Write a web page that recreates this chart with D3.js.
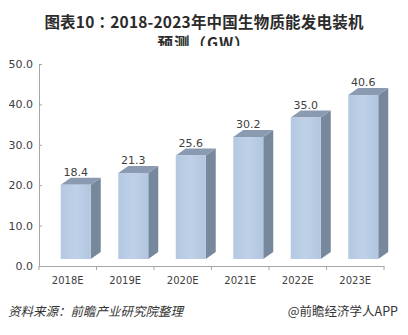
<!DOCTYPE html>
<html><head><meta charset="utf-8">
<script src="https://cdn.jsdelivr.net/npm/d3@7"></script>
<style>body{margin:0;background:#fff}svg{display:block}</style>
</head><body>
<script>
const categories = ["2018E","2019E","2020E","2021E","2022E","2023E"];
const values = [18.4,21.3,25.6,30.2,35.0,40.6];
const yTicks = [0,10,20,30,40,50];
const titleLines = ["图表10：2018-2023年中国生物质能发电装机","预测（GW）"];
const sourceText = "资料来源：前瞻产业研究院整理";
const brandText = "@前瞻经济学人APP";

(function(){
const W=408,H=335;
const svg=d3.select("body").append("svg").attr("width",W).attr("height",H);
const defs=svg.append("defs");
defs.append("clipPath").attr("id","tclip").append("rect").attr("x",0).attr("y",0).attr("width",W).attr("height",46);
const g=defs.append("linearGradient").attr("id","front").attr("x1",0).attr("x2",1).attr("y1",0).attr("y2",0);
g.append("stop").attr("offset","0").attr("stop-color","#b4c8e1");
g.append("stop").attr("offset","0.5").attr("stop-color","#bed1e8");
g.append("stop").attr("offset","1").attr("stop-color","#b2c6df");

const cjk='"Noto Sans CJK SC","Noto Sans",sans-serif';
const tg=svg.append("g").attr("clip-path","url(#tclip)");
tg.selectAll("text").data(titleLines).join("text")
 .attr("x",204).attr("y",(d,i)=>28+i*21).attr("text-anchor","middle")
 .attr("font-family",cjk).attr("font-weight","bold").attr("font-size",15.5).attr("fill","#2b2b2b")
 .attr("letter-spacing",(d,i)=>i===1?1:0.2)
 .each(function(d){
   const t=d3.select(this);
   d.split(/(：)/).forEach(p=>{
     const s=t.append("tspan").text(p);
     if(p==="：") s.attr("font-family",'"Noto Sans CJK TC",sans-serif');
   });
 });

const y=d3.scaleLinear().domain([0,50]).range([266,64]);
const x=d3.scaleBand().domain(categories).range([39,384]);
const dx=10, dy=7, bw=30;

const ya=svg.append("g").attr("transform","translate(39,0)").call(d3.axisLeft(y).tickValues(yTicks).tickFormat(d3.format(".1f")).tickSize(-3).tickSizeOuter(0));
ya.select(".domain").attr("stroke","#a6a6a6");
ya.selectAll(".tick line").attr("stroke","#a6a6a6");
ya.selectAll("text").attr("font-family","DejaVu Sans").attr("font-size",11).attr("fill","#404040").attr("x",-6);

const xa=svg.append("g").attr("transform","translate(0,266)").call(d3.axisBottom(x).tickSize(0).tickSizeOuter(0));
xa.select(".domain").attr("stroke","#a6a6a6");
xa.selectAll("text").attr("font-family","DejaVu Sans").attr("font-size",10).attr("fill","#404040").attr("dy","0.71em").attr("y",11);
svg.append("g").selectAll("line").data(d3.range(categories.length+1)).join("line")
 .attr("x1",i=>39+i*x.step()).attr("x2",i=>39+i*x.step()).attr("y1",266).attr("y2",270).attr("stroke","#a6a6a6");

const data=categories.map((c,i)=>({c,v:values[i]}));
const bars=svg.append("g").selectAll("g").data(data).join("g");
const fx=d=>x(d.c)+x.bandwidth()/2+8-bw/2;
const base=y(0)-dy;
const ty=d=>y(d.v)-dy;
bars.append("polygon").attr("fill","#77889d")
 .attr("points",d=>[[fx(d)+bw,base],[fx(d)+bw+dx,base-dy],[fx(d)+bw+dx,ty(d)-dy],[fx(d)+bw,ty(d)]].join(" "));
bars.append("polygon").attr("fill","#8a9bb1")
 .attr("points",d=>[[fx(d),ty(d)],[fx(d)+dx,ty(d)-dy],[fx(d)+bw+dx,ty(d)-dy],[fx(d)+bw,ty(d)]].join(" "));
bars.append("rect").attr("fill","url(#front)")
 .attr("x",fx).attr("y",ty).attr("width",bw).attr("height",d=>base-ty(d));
bars.append("text").attr("x",d=>fx(d)+bw/2).attr("y",d=>ty(d)-9).attr("text-anchor","middle")
 .attr("font-family","DejaVu Sans").attr("font-size",11).attr("fill","#404040").text(d=>d3.format(".1f")(d.v));

svg.append("text").attr("x",8).attr("y",316).attr("font-family",cjk).attr("font-style","italic").attr("font-size",12.5).attr("fill","#333").text(sourceText);
svg.append("text").attr("x",398).attr("y",316).attr("text-anchor","end").attr("font-family",cjk).attr("font-size",12.5).attr("fill","#333").text(brandText);
})();
</script>
</body></html>
